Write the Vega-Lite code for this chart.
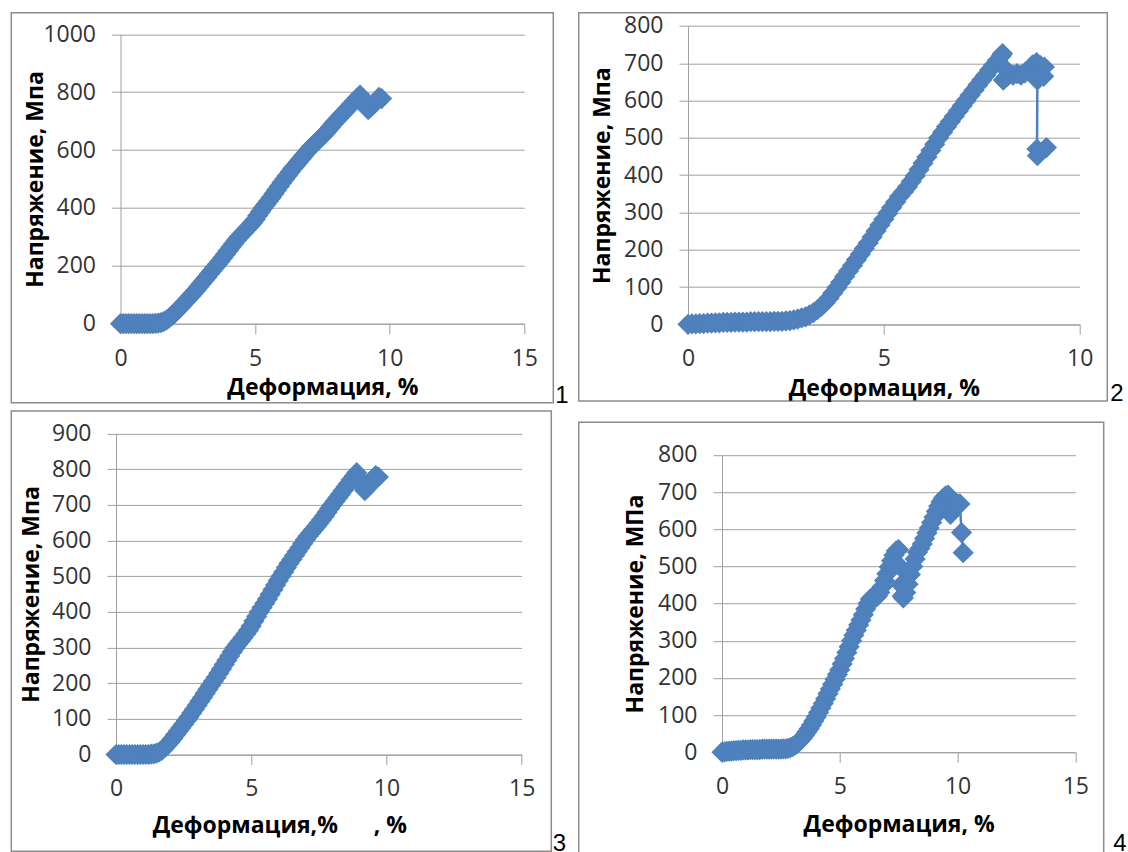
{
  "$schema": "https://vega.github.io/schema/vega-lite/v6.json",
  "background": "white",
  "padding": {"left": 10.3, "top": 11.7, "right": 0, "bottom": 0},
  "config": {
    "view": {"stroke": "#8c8c8c", "strokeWidth": 1.5},
    "font": "Open Sans",
    "axis": {
      "grid": true, "gridColor": "#a0a0a0", "gridWidth": 1,
      "domainColor": "#a0a0a0", "domainWidth": 1,
      "tickColor": "#a0a0a0", "tickWidth": 1,
      "labelFont": "Open Sans", "labelFontSize": 23, "labelColor": "#333333",
      "labelFlush": false, "labelOverlap": false, "format": "d",
      "titleFont": "Open Sans", "titleFontSize": 23, "titleFontWeight": "bold", "titleColor": "#000000",
      "titleBaseline": "middle"
    },
    "axisX": {"grid": false, "tickSize": 10, "labelPadding": 13.5},
    "axisY": {"tickSize": 9, "labelPadding": 16, "titleX": -85},
    "title": {"orient": "right", "anchor": "end", "angle": 0, "align": "left", "baseline": "alphabetic", "frame": "group", "font": "Liberation Sans", "fontSize": 24, "fontWeight": "normal", "color": "#000000"}
  },
  "datasets": {
    "a": [
      {"x":0,"y":0},{"x":0.1,"y":0},{"x":0.2,"y":0},{"x":0.3,"y":0},{"x":0.4,"y":0},{"x":0.5,"y":0},{"x":0.6,"y":0},{"x":0.7,"y":0},{"x":0.8,"y":0},{"x":0.9,"y":0},{"x":1.0,"y":0},{"x":1.1,"y":0},{"x":1.2,"y":0},{"x":1.3,"y":1},{"x":1.4,"y":2},{"x":1.5,"y":4},{"x":1.6,"y":7},{"x":1.7,"y":12},{"x":1.8,"y":19},{"x":1.9,"y":27},{"x":2.0,"y":36},{"x":2.1,"y":45},{"x":2.2,"y":55},{"x":2.3,"y":65},{"x":2.4,"y":75},{"x":2.5,"y":85},{"x":2.6,"y":95},{"x":2.7,"y":105},{"x":2.8,"y":116},{"x":2.9,"y":127},{"x":3.0,"y":138},{"x":3.1,"y":149},{"x":3.2,"y":160},{"x":3.3,"y":172},{"x":3.4,"y":183},{"x":3.5,"y":194},{"x":3.6,"y":205},{"x":3.7,"y":216},{"x":3.8,"y":228},{"x":3.9,"y":240},{"x":4.0,"y":252},{"x":4.1,"y":264},{"x":4.2,"y":276},{"x":4.3,"y":288},{"x":4.4,"y":299},{"x":4.5,"y":309},{"x":4.6,"y":318},{"x":4.7,"y":328},{"x":4.8,"y":338},{"x":4.9,"y":348},{"x":5.0,"y":360},{"x":5.1,"y":374},{"x":5.2,"y":387},{"x":5.3,"y":400},{"x":5.4,"y":412},{"x":5.5,"y":424},{"x":5.6,"y":436},{"x":5.7,"y":449},{"x":5.8,"y":462},{"x":5.9,"y":475},{"x":6.0,"y":488},{"x":6.1,"y":500},{"x":6.2,"y":512},{"x":6.3,"y":524},{"x":6.4,"y":536},{"x":6.5,"y":547},{"x":6.6,"y":558},{"x":6.7,"y":569},{"x":6.8,"y":580},{"x":6.9,"y":591},{"x":7.0,"y":602},{"x":7.1,"y":612},{"x":7.2,"y":621},{"x":7.3,"y":630},{"x":7.4,"y":639},{"x":7.5,"y":648},{"x":7.6,"y":658},{"x":7.7,"y":668},{"x":7.8,"y":679},{"x":7.9,"y":690},{"x":8.0,"y":700},{"x":8.1,"y":710},{"x":8.2,"y":720},{"x":8.3,"y":730},{"x":8.4,"y":740},{"x":8.5,"y":750},{"x":8.6,"y":760},{"x":8.7,"y":770},{"x":8.8,"y":780},{"x":8.9,"y":790},{"x":9.0,"y":772},{"x":9.1,"y":752},{"x":9.2,"y":740},{"x":9.3,"y":748},{"x":9.4,"y":758},{"x":9.5,"y":770},{"x":9.6,"y":782},{"x":9.7,"y":778}
    ],
    "b": [
      {"x":0,"y":0},{"x":0.1,"y":1},{"x":0.2,"y":1},{"x":0.3,"y":2},{"x":0.4,"y":2},{"x":0.5,"y":3},{"x":0.6,"y":3},{"x":0.7,"y":4},{"x":0.8,"y":4},{"x":0.9,"y":5},{"x":1.0,"y":5},{"x":1.1,"y":5},{"x":1.2,"y":6},{"x":1.3,"y":6},{"x":1.4,"y":6},{"x":1.5,"y":6},{"x":1.6,"y":7},{"x":1.7,"y":7},{"x":1.8,"y":7},{"x":1.9,"y":7},{"x":2.0,"y":7},{"x":2.1,"y":7},{"x":2.2,"y":8},{"x":2.3,"y":8},{"x":2.4,"y":8},{"x":2.5,"y":9},{"x":2.6,"y":10},{"x":2.7,"y":12},{"x":2.8,"y":14},{"x":2.9,"y":17},{"x":3.0,"y":20},{"x":3.1,"y":25},{"x":3.2,"y":31},{"x":3.3,"y":39},{"x":3.4,"y":48},{"x":3.5,"y":58},{"x":3.6,"y":70},{"x":3.7,"y":84},{"x":3.8,"y":98},{"x":3.9,"y":113},{"x":4.0,"y":128},{"x":4.1,"y":143},{"x":4.2,"y":158},{"x":4.3,"y":173},{"x":4.4,"y":188},{"x":4.5,"y":203},{"x":4.6,"y":218},{"x":4.7,"y":234},{"x":4.8,"y":250},{"x":4.9,"y":266},{"x":5.0,"y":282},{"x":5.1,"y":298},{"x":5.2,"y":313},{"x":5.3,"y":328},{"x":5.4,"y":343},{"x":5.5,"y":355},{"x":5.6,"y":368},{"x":5.7,"y":383},{"x":5.8,"y":398},{"x":5.9,"y":415},{"x":6.0,"y":432},{"x":6.1,"y":449},{"x":6.2,"y":466},{"x":6.3,"y":483},{"x":6.4,"y":500},{"x":6.5,"y":515},{"x":6.6,"y":530},{"x":6.7,"y":544},{"x":6.8,"y":558},{"x":6.9,"y":572},{"x":7.0,"y":586},{"x":7.1,"y":600},{"x":7.2,"y":614},{"x":7.3,"y":628},{"x":7.4,"y":642},{"x":7.5,"y":655},{"x":7.6,"y":668},{"x":7.7,"y":682},{"x":7.8,"y":695},{"x":7.9,"y":708},{"x":8.0,"y":720},{"x":8.03,"y":726},{"x":8.05,"y":655},{"x":8.1,"y":685},{"x":8.15,"y":665},{"x":8.2,"y":670},{"x":8.3,"y":668},{"x":8.4,"y":672},{"x":8.5,"y":668},{"x":8.6,"y":674},{"x":8.7,"y":682},{"x":8.8,"y":696},{"x":8.9,"y":702},{"x":9.0,"y":694},{"x":9.1,"y":690},{"x":9.08,"y":665},{"x":8.92,"y":655},{"x":8.91,"y":470},{"x":8.92,"y":452},{"x":9.15,"y":474}
    ],
    "c": [
      {"x":0,"y":0},{"x":0.1,"y":1},{"x":0.2,"y":2},{"x":0.3,"y":3},{"x":0.4,"y":3},{"x":0.5,"y":4},{"x":0.6,"y":4},{"x":0.7,"y":5},{"x":0.8,"y":5},{"x":0.9,"y":6},{"x":1.0,"y":6},{"x":1.1,"y":6},{"x":1.2,"y":7},{"x":1.3,"y":7},{"x":1.4,"y":7},{"x":1.5,"y":7},{"x":1.6,"y":7},{"x":1.7,"y":8},{"x":1.8,"y":8},{"x":1.9,"y":8},{"x":2.0,"y":8},{"x":2.1,"y":8},{"x":2.2,"y":8},{"x":2.3,"y":8},{"x":2.4,"y":8},{"x":2.5,"y":8},{"x":2.6,"y":9},{"x":2.7,"y":9},{"x":2.8,"y":10},{"x":2.9,"y":12},{"x":3.0,"y":15},{"x":3.1,"y":19},{"x":3.2,"y":24},{"x":3.3,"y":30},{"x":3.4,"y":37},{"x":3.5,"y":45},{"x":3.6,"y":54},{"x":3.7,"y":63},{"x":3.8,"y":73},{"x":3.9,"y":84},{"x":4.0,"y":95},{"x":4.1,"y":107},{"x":4.2,"y":119},{"x":4.3,"y":131},{"x":4.4,"y":144},{"x":4.5,"y":157},{"x":4.6,"y":170},{"x":4.7,"y":183},{"x":4.8,"y":196},{"x":4.9,"y":209},{"x":5.0,"y":222},{"x":5.1,"y":237},{"x":5.2,"y":252},{"x":5.3,"y":268},{"x":5.4,"y":284},{"x":5.5,"y":300},{"x":5.6,"y":315},{"x":5.7,"y":328},{"x":5.8,"y":342},{"x":5.9,"y":356},{"x":6.0,"y":370},{"x":6.1,"y":385},{"x":6.2,"y":400},{"x":6.3,"y":412},{"x":6.4,"y":418},{"x":6.5,"y":415},{"x":6.6,"y":420},{"x":6.7,"y":430},{"x":6.8,"y":445},{"x":6.9,"y":462},{"x":7.0,"y":480},{"x":7.1,"y":498},{"x":7.2,"y":515},{"x":7.3,"y":530},{"x":7.4,"y":542},{"x":7.5,"y":545},{"x":7.55,"y":500},{"x":7.6,"y":450},{"x":7.65,"y":420},{"x":7.7,"y":415},{"x":7.8,"y":430},{"x":7.9,"y":452},{"x":8.0,"y":478},{"x":8.1,"y":500},{"x":8.2,"y":520},{"x":8.3,"y":538},{"x":8.4,"y":548},{"x":8.5,"y":560},{"x":8.6,"y":575},{"x":8.7,"y":590},{"x":8.8,"y":603},{"x":8.9,"y":618},{"x":9.0,"y":632},{"x":9.1,"y":648},{"x":9.2,"y":662},{"x":9.3,"y":674},{"x":9.4,"y":684},{"x":9.5,"y":690},{"x":9.6,"y":692},{"x":9.7,"y":640},{"x":9.8,"y":650},{"x":9.9,"y":662},{"x":10.0,"y":668},{"x":10.1,"y":668},{"x":10.17,"y":591},{"x":10.24,"y":537}
    ]
  },
  "spacing": 7.4,
  "hconcat": [
    {
      "spacing": 1.2,
      "vconcat": [
        {
          "width": 542, "height": 390,
          "data": {"name": "a"},
          "title": {"text": "1", "offset": 2, "dy": -19},
          "encoding": {
            "x": {"field": "x", "type": "quantitative", "scale": {"domain": [0, 15], "range": [109.2, 513], "nice": false, "zero": false},
                  "axis": {"values": [0, 5, 10, 15], "offset": -79, "title": "Деформация, %", "titleY": 64}},
            "y": {"field": "y", "type": "quantitative", "scale": {"domain": [0, 1000], "range": [311, 21.6], "nice": false, "zero": false},
                  "axis": {"values": [0, 200, 400, 600, 800, 1000], "offset": -109.2, "title": "Напряжение, Мпа", "titleX": -85}}
          },
          "layer": [
            {"mark": {"type": "line", "color": "#4F81BD", "strokeWidth": 2.5}, "encoding": {"order": {"value": null}}},
            {"mark": {"type": "point", "shape": "diamond", "filled": true, "size": 450, "color": "#4F81BD", "opacity": 1}}
          ]
        },
        {
          "width": 540, "height": 440.3,
          "data": {"name": "a"},
          "title": {"text": "3", "offset": 1.4, "dy": -19},
          "encoding": {
            "x": {"field": "x", "type": "quantitative", "scale": {"domain": [0, 15], "range": [104.7, 510.4], "nice": false, "zero": false},
                  "axis": {"values": [0, 5, 10, 15], "offset": -96.7, "title": "Деформация,%\u00a0\u00a0\u00a0\u00a0\u00a0\u00a0, %", "titleY": 71, "titleX": 268}},
            "y": {"field": "y", "type": "quantitative", "scale": {"domain": [0, 900], "range": [343.6, 22.6], "nice": false, "zero": false},
                  "axis": {"values": [0, 100, 200, 300, 400, 500, 600, 700, 800, 900], "offset": -104.7, "title": "Напряжение, Мпа", "titleX": -85}}
          },
          "layer": [
            {"mark": {"type": "line", "color": "#4F81BD", "strokeWidth": 2.5}, "encoding": {"order": {"value": null}}},
            {"mark": {"type": "point", "shape": "diamond", "filled": true, "size": 450, "color": "#4F81BD", "opacity": 1}}
          ]
        }
      ]
    },
    {
      "spacing": 13.5,
      "vconcat": [
        {
          "width": 528.6, "height": 388.3,
          "data": {"name": "b"},
          "title": {"text": "2", "offset": 3, "dy": -19},
          "encoding": {
            "x": {"field": "x", "type": "quantitative", "scale": {"domain": [0, 10], "range": [109.3, 501], "nice": false, "zero": false},
                  "axis": {"values": [0, 5, 10], "offset": -76.7, "title": "Деформация, %", "titleY": 64}},
            "y": {"field": "y", "type": "quantitative", "scale": {"domain": [0, 800], "range": [311.6, 13.3], "nice": false, "zero": false},
                  "axis": {"values": [0, 100, 200, 300, 400, 500, 600, 700, 800], "offset": -109.3, "title": "Напряжение, Мпа", "titleX": -85}}
          },
          "layer": [
            {"mark": {"type": "line", "color": "#4F81BD", "strokeWidth": 2.5}, "encoding": {"order": {"value": null}}},
            {"mark": {"type": "point", "shape": "diamond", "filled": true, "size": 450, "color": "#4F81BD", "opacity": 1}}
          ]
        },
        {
          "width": 525, "height": 435,
          "data": {"name": "c"},
          "title": {"text": "4", "offset": 9.5, "dy": -25},
          "encoding": {
            "x": {"field": "x", "type": "quantitative", "scale": {"domain": [0, 15], "range": [143.3, 496.6], "nice": false, "zero": false},
                  "axis": {"values": [0, 5, 10, 15], "offset": -105, "title": "Деформация, %", "titleY": 72}},
            "y": {"field": "y", "type": "quantitative", "scale": {"domain": [0, 800], "range": [330, 32.7], "nice": false, "zero": false},
                  "axis": {"values": [0, 100, 200, 300, 400, 500, 600, 700, 800], "offset": -143.3, "title": "Напряжение, МПа", "titleX": -86}}
          },
          "layer": [
            {"mark": {"type": "line", "color": "#4F81BD", "strokeWidth": 2.5}, "encoding": {"order": {"value": null}}},
            {"mark": {"type": "point", "shape": "diamond", "filled": true, "size": 450, "color": "#4F81BD", "opacity": 1}}
          ]
        }
      ]
    }
  ]
}
